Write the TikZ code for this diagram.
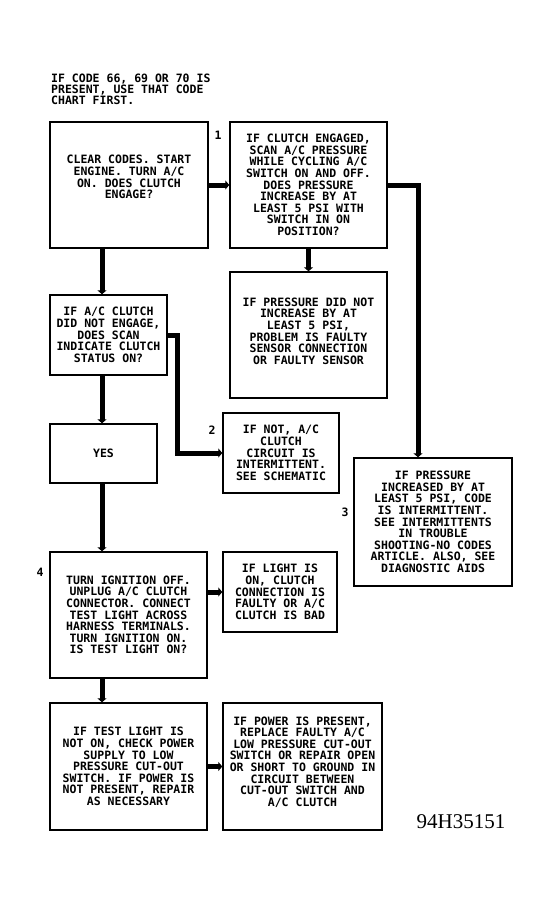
\documentclass[tikz,border=0pt]{standalone}
\usepackage{fontspec}
\setmainfont{Liberation Sans}
\newfontfamily\boxfont{DejaVu Sans Mono}
\newfontfamily\serialfont{Liberation Serif}
\usetikzlibrary{arrows.meta}
\tikzset{
  box/.style={draw, line width=1.4pt, inner sep=0pt, align=center,
    font={\boxfont\fontsize{11.5}{11.6}\selectfont\bfseries}},
  conn/.style={line width=5pt, -{Triangle[length=4pt,width=9pt]}},
  plain/.style={inner sep=0pt, font={\boxfont\fontsize{11.5}{10}\selectfont\bfseries}},
}
\begin{document}
\begin{tikzpicture}[x=1pt,y=-1pt]
\useasboundingbox[fill=white] (0,0) rectangle (550,907);
\node[plain, anchor=west, align=left] (intro) at (51,89)
  {IF CODE 66, 69 OR 70 IS\\PRESENT, USE THAT CODE\\CHART FIRST.};
\node[box, minimum width=158pt, minimum height=126pt] (A) at (129,185)
  {CLEAR CODES. START\\ENGINE. TURN A/C\\ON. DOES CLUTCH\\ENGAGE?\\[4.4pt]};
\node[box, minimum width=157pt, minimum height=126pt] (B) at (308.5,185)
  {IF CLUTCH ENGAGED,\\SCAN A/C PRESSURE\\WHILE CYCLING A/C\\SWITCH ON AND OFF.\\DOES PRESSURE\\INCREASE BY AT\\LEAST 5 PSI WITH\\SWITCH IN ON\\POSITION?};
\node[box, minimum width=157pt, minimum height=126pt] (C) at (308.5,335)
  {IF PRESSURE DID NOT\\INCREASE BY AT\\LEAST 5 PSI,\\PROBLEM IS FAULTY\\SENSOR CONNECTION\\OR FAULTY SENSOR\\[-3.6pt]};
\node[box, minimum width=117pt, minimum height=80pt] (D) at (108.5,335)
  {IF A/C CLUTCH\\DID NOT ENGAGE,\\DOES SCAN\\INDICATE CLUTCH\\STATUS ON?};
\node[box, minimum width=107pt, minimum height=59pt] (Y) at (103.5,453.5) {YES};
\node[box, minimum width=116pt, minimum height=80pt] (F) at (281,453)
  {IF NOT, A/C\\CLUTCH\\CIRCUIT IS\\INTERMITTENT.\\SEE SCHEMATIC};
\node[box, minimum width=158pt, minimum height=128pt] (E) at (433,522)
  {IF PRESSURE\\INCREASED BY AT\\LEAST 5 PSI, CODE\\IS INTERMITTENT.\\SEE INTERMITTENTS\\IN TROUBLE\\SHOOTING-NO CODES\\ARTICLE. ALSO, SEE\\DIAGNOSTIC AIDS};
\node[box, minimum width=157pt, minimum height=126pt] (G) at (128.5,615)
  {TURN IGNITION OFF.\\UNPLUG A/C CLUTCH\\CONNECTOR. CONNECT\\TEST LIGHT ACROSS\\HARNESS TERMINALS.\\TURN IGNITION ON.\\IS TEST LIGHT ON?};
\node[box, minimum width=114pt, minimum height=80pt] (H) at (280,592)
  {IF LIGHT IS\\ON, CLUTCH\\CONNECTION IS\\FAULTY OR A/C\\CLUTCH IS BAD};
\node[box, minimum width=157pt, minimum height=127pt] (I) at (128.5,766.5)
  {IF TEST LIGHT IS\\NOT ON, CHECK POWER\\SUPPLY TO LOW\\PRESSURE CUT-OUT\\SWITCH. IF POWER IS\\NOT PRESENT, REPAIR\\AS NECESSARY};
\node[box, minimum width=159pt, minimum height=127pt] (J) at (302.5,766.5)
  {IF POWER IS PRESENT,\\REPLACE FAULTY A/C\\LOW PRESSURE CUT-OUT\\SWITCH OR REPAIR OPEN\\OR SHORT TO GROUND IN\\CIRCUIT BETWEEN\\CUT-OUT SWITCH AND\\A/C CLUTCH\\[-1.6pt]};
\node[plain] (n1) at (218,135) {1};
\node[plain] (n2) at (212,430) {2};
\node[plain] (n3) at (345,512) {3};
\node[plain] (n4) at (40,572) {4};
\node[inner sep=0pt, font={\serialfont\fontsize{21}{21}\selectfont}] (code) at (461,822) {94H35151};
\coordinate (spine) at (102,0);
\coordinate (rightline) at (418,0);
\draw[conn] (A.east) -- (B.west);
\draw[conn] (B.south) -- (C.north);
\draw[conn] (B.east) -| (E.north -| rightline);
\draw[conn] (A.south -| spine) -- (D.north -| spine);
\draw[conn] (D.south -| spine) -- (Y.north -| spine);
\draw[conn] (Y.south -| spine) -- (G.north -| spine);
\draw[conn] (G.south -| spine) -- (I.north -| spine);
\draw[conn] (D.east) -- ++(10,0) |- (F.west);
\draw[conn] (G.east |- H.west) -- (H.west);
\draw[conn] (I.east) -- (J.west);
\end{tikzpicture}
\end{document}
